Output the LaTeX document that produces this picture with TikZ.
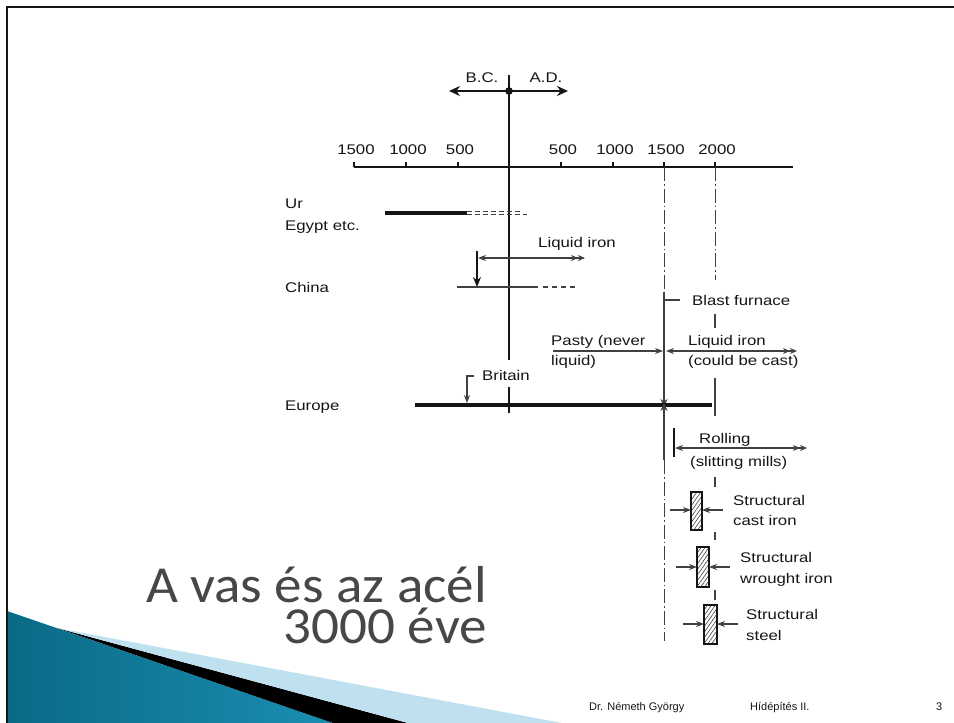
\documentclass[tikz,border=0pt]{standalone}
\usepackage{fontspec}
\setmainfont{Liberation Sans}
\newfontfamily\diagfont[FakeStretch=1.2]{Liberation Sans}
\newfontfamily\titlefont[FakeStretch=1.06]{Carlito}
\usetikzlibrary{arrows.meta, patterns.meta}
\definecolor{chartink}{HTML}{151515}
\definecolor{thinink}{HTML}{404040}
\definecolor{wedgedark}{HTML}{0A6A85}
\definecolor{wedgelight}{HTML}{4FB8DA}
\definecolor{wedgeend}{HTML}{1A8EB3}
\definecolor{wedgehatch}{HTML}{BFE1EF}
\definecolor{titlegray}{HTML}{474747}

\begin{document}
\begin{tikzpicture}[
  x=1pt, y=-1pt,
  every node/.style={font=\diagfont\fontsize{14}{16}\selectfont, chartink, inner sep=0pt},
  lbl/.style={anchor=base west},
  axis/.style={chartink, line width=1.7pt},
  bar/.style={chartink, line width=4.5pt},
  thin/.style={thinink, line width=1.1pt},
  centre/.style={thinink, line width=1pt, dash pattern=on 14pt off 3pt on 1.5pt off 3pt},
  tip/.style={-{Stealth[length=8pt,width=6pt]}},
  both/.style={{Stealth[length=8pt,width=6pt]}-{Stealth[length=7pt,width=6pt]Stealth[length=7pt,width=6pt]}},
  hatchbox/.style={draw=chartink, line width=1.4pt,
    pattern={Lines[angle=55,distance=3.2pt,line width=0.6pt]}, pattern color=thinink}
]
\useasboundingbox (0,0) rectangle (954,723);

%% ==== wedge and frame ===============================================
\shade[left color=wedgedark, middle color=wedgelight, right color=wedgeend]
  (7,611) -- (333,723) -- (7,723) -- cycle;
\fill[black] (57,628) -- (408,723) -- (333,723) -- cycle;
\fill[wedgehatch] (57,628) -- (562,723) -- (408,723) -- cycle;
\draw[line width=2pt, chartink] (7,723) -- (7,7) -- (954,7);

%% ==== time axis =====================================================
\coordinate (origin) at (509,91);
\coordinate (bctip) at (449,91);
\coordinate (adtip) at (568,91);
\draw[axis] (509,75) -- (509,360);
\draw[axis] (509,387) -- (509,413);
\draw[axis, -{Stealth[length=11pt,width=10pt]}] (origin) -- (bctip);
\draw[axis, -{Stealth[length=11pt,width=10pt]}] (origin) -- (adtip);
\fill[chartink] (origin) circle (3.8);
\node[anchor=base] (bc) at (482,82) {B.C.};
\node[anchor=base] (ad) at (546,82) {A.D.};

\draw[axis] (354,167) -- (793,167);
\foreach \t/\y in {354/1500, 406/1000, 458/500, 561/500, 613/1000, 664/1500, 715/2000}
  \draw[chartink, line width=1.4pt] (\t,167) -- (\t,162);
\foreach \t/\y in {354/1500, 406/1000, 458/500, 561/500, 613/1000, 664/1500, 715/2000}
  \node[anchor=base] at (\t+2,154) {\y};

%% ==== Ur, Egypt, China ==============================================
\node[lbl] (ur) at (285,208) {Ur};
\node[lbl] (egypt) at (285,230) {Egypt etc.};
\draw[bar] (385,213) -- (467,213);
\draw[thin, line width=0.9pt, dash pattern=on 5pt off 3pt] (467,211.5) -- (521,211.5);
\draw[thin, line width=0.9pt, dash pattern=on 5pt off 3pt] (467,214.5) -- (527,214.5);

\node[lbl] (liquid1) at (538,247) {Liquid iron};
\draw[thin, both] (478,258) -- (585,258);

\node[lbl] (china) at (285,292) {China};
\draw[chartink, line width=1.3pt, -{Stealth[length=10pt,width=8pt]}] (477,251) -- (477,287);
\draw[thin] (457,287) -- (538,287);
\draw[thin, dash pattern=on 5pt off 4pt] (543,287) -- (576,287);

%% ==== Europe ========================================================
\coordinate (furnace) at (664,292);
\coordinate (eu1500) at (664,405);
\draw[centre] (664,167) -- (furnace);
\draw[thin, -{Stealth[length=8pt,width=7pt]}] (furnace) -- ([yshift=-2pt]eu1500);
\draw[thin] (664,300) -- (680,300);
\node[lbl] (blast) at (692,305) {Blast furnace};

\draw[centre] (715,167) -- (715,280);
\foreach \a/\b in {314/328, 378/416, 477/487, 532/540, 590/600}
  \draw[thin] (715,\a) -- (715,\b);

\node[lbl] (pasty) at (551,345) {Pasty (never};
\node[lbl] (pasty2) at (551,365) {liquid)};
\draw[thin, tip] (553,351) -- (663,351);
\node[lbl] (liquid2) at (688,345) {Liquid iron};
\node[lbl] (cast) at (688,365) {(could be cast)};
\draw[thin, both] (666,351) -- (797,351);

\node[lbl] (britain) at (482,380) {Britain};
\draw[thin, tip] (474,376) -- (467,376) -- (467,403);
\node[lbl] (europe) at (285,410) {Europe};
\draw[bar] (415,405) -- (712,405);

\draw[thin, -{Stealth[length=8pt,width=7pt]}] (664,460) -- ([yshift=2pt]eu1500);
\draw[centre] (664,460) -- (664,641);

%% ==== rolling and structural members ================================
\draw[chartink, line width=1.3pt] (674,428) -- (674,457);
\draw[thin, both] (675,448) -- (807,448);
\node[lbl] (rolling) at (699,443) {Rolling};
\node[lbl] (slitting) at (690,466) {(slitting mills)};

\foreach \l/\r/\t/\b/\ax/\tx/\ya/\yb/\txt in {
    691/702/492/530/510/733/505/525/cast iron,
    697/709/547/587/567/740/562/583/wrought iron,
    704/717/605/644/624/746/619/640/steel} {
  \draw[hatchbox] (\l,\t) rectangle (\r,\b);
  \draw[thin, tip] (\l-21,\ax) -- (\l,\ax);
  \draw[thin, tip] (\r+21,\ax) -- (\r,\ax);
  \node[lbl] at (\tx,\ya) {Structural};
  \node[lbl] at (\tx,\yb) {\txt};
}

%% ==== title and footer ==============================================
\node[anchor=south east, align=right, font=\titlefont\fontsize{52}{41}\selectfont, titlegray]
  (title) at (487,644) {A vas és az acél\\3000 éve};

\node[lbl, font=\fontsize{11}{13}\selectfont] (author) at (589,710) {Dr. Németh György};
\node[lbl, font=\fontsize{11}{13}\selectfont] (course) at (750,710) {Hídépítés II.};
\node[lbl, font=\fontsize{11}{13}\selectfont] (page) at (936,710) {3};

\end{tikzpicture}
\end{document}
